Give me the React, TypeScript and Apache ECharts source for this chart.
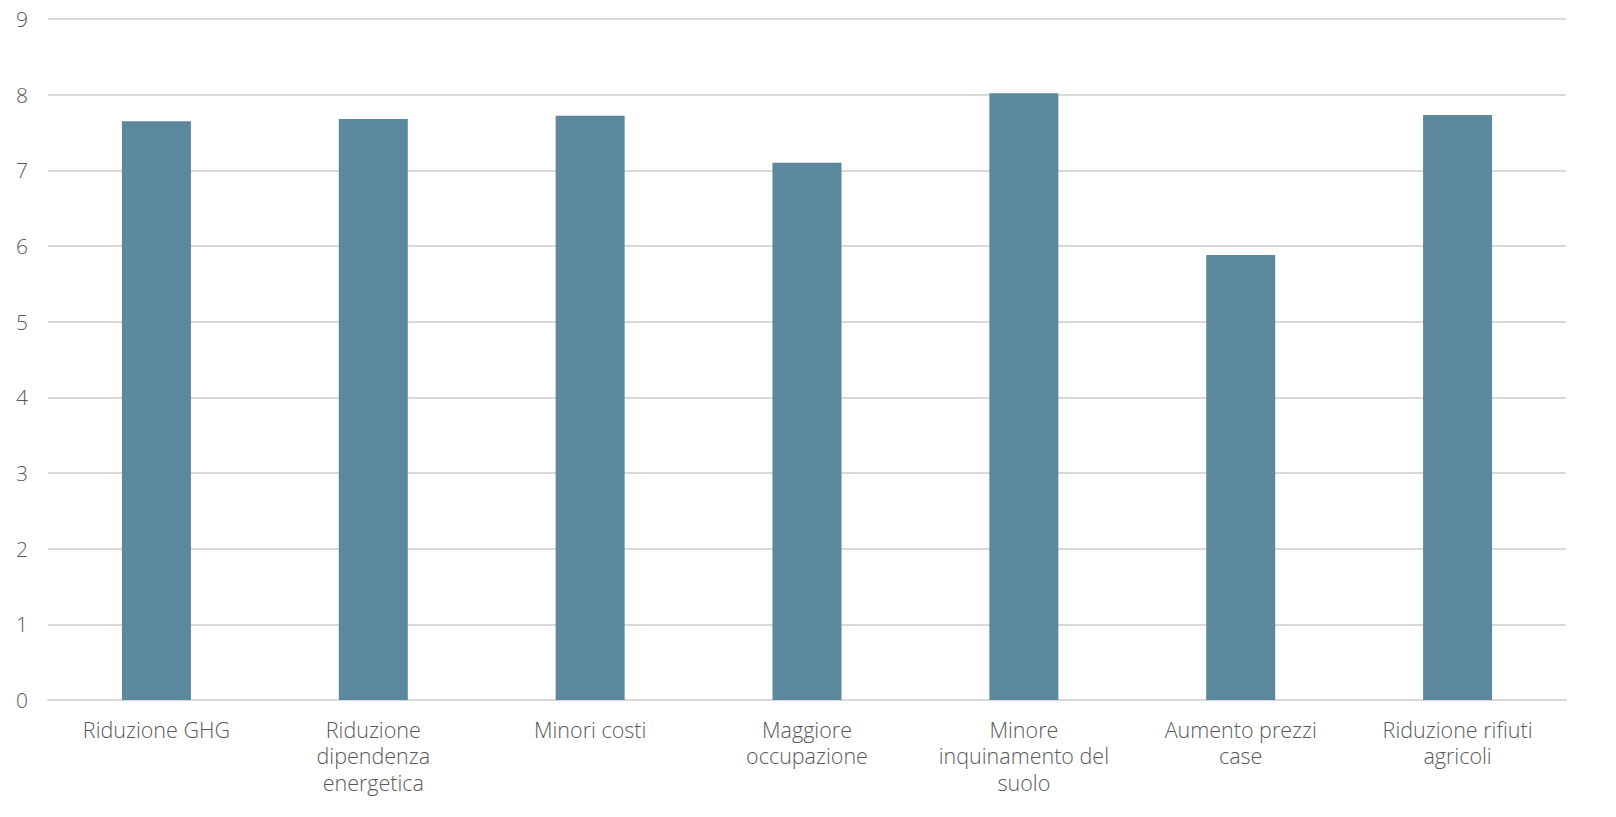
import React, { useEffect, useRef } from "react";
import * as echarts from "echarts";

const categories = [
  "Riduzione GHG",
  "Riduzione\ndipendenza\nenergetica",
  "Minori costi",
  "Maggiore\noccupazione",
  "Minore\ninquinamento del\nsuolo",
  "Aumento prezzi\ncase",
  "Riduzione rifiuti\nagricoli",
];
const values = [7.65, 7.68, 7.72, 7.1, 8.02, 5.88, 7.73];
const yTicks = { min: 0, max: 9, interval: 1 };

export default function App() {
  const ref = useRef<HTMLDivElement>(null);
  useEffect(() => {
    if (!ref.current) return;
    const chart = echarts.init(ref.current, null, { renderer: "svg" });
    const font = "'Open Sans', Lato, sans-serif";
    chart.setOption({
      animation: false,
      grid: { left: 48, right: 50, top: 19, bottom: 117, containLabel: false },
      xAxis: {
        type: "category",
        data: categories,
        axisLine: { show: true, lineStyle: { color: "#d9d9d9", width: 2 } },
        axisTick: { show: false },
        axisLabel: {
          color: "#595959",
          fontSize: 21.5,
          fontWeight: 300,
          fontFamily: font,
          lineHeight: 26.5,
          margin: 16,
          interval: 0,
          align: "center",
        },
      },
      yAxis: {
        type: "value",
        min: yTicks.min,
        max: yTicks.max,
        interval: yTicks.interval,
        axisLine: { show: false },
        axisTick: { show: false },
        splitLine: { lineStyle: { color: "#d9d9d9", width: 2 } },
        axisLabel: { color: "#595959", fontSize: 21, fontWeight: 300, fontFamily: font, margin: 20 },
      },
      series: [
        {
          type: "bar",
          data: values,
          barWidth: 69,
          itemStyle: { color: "#5b889c" },
        },
      ],
    });
    return () => chart.dispose();
  }, []);
  return (
    <div
      ref={ref}
      style={{ width: 1616, height: 817, marginTop: -8, marginLeft: -8 }}
    />
  );
}
